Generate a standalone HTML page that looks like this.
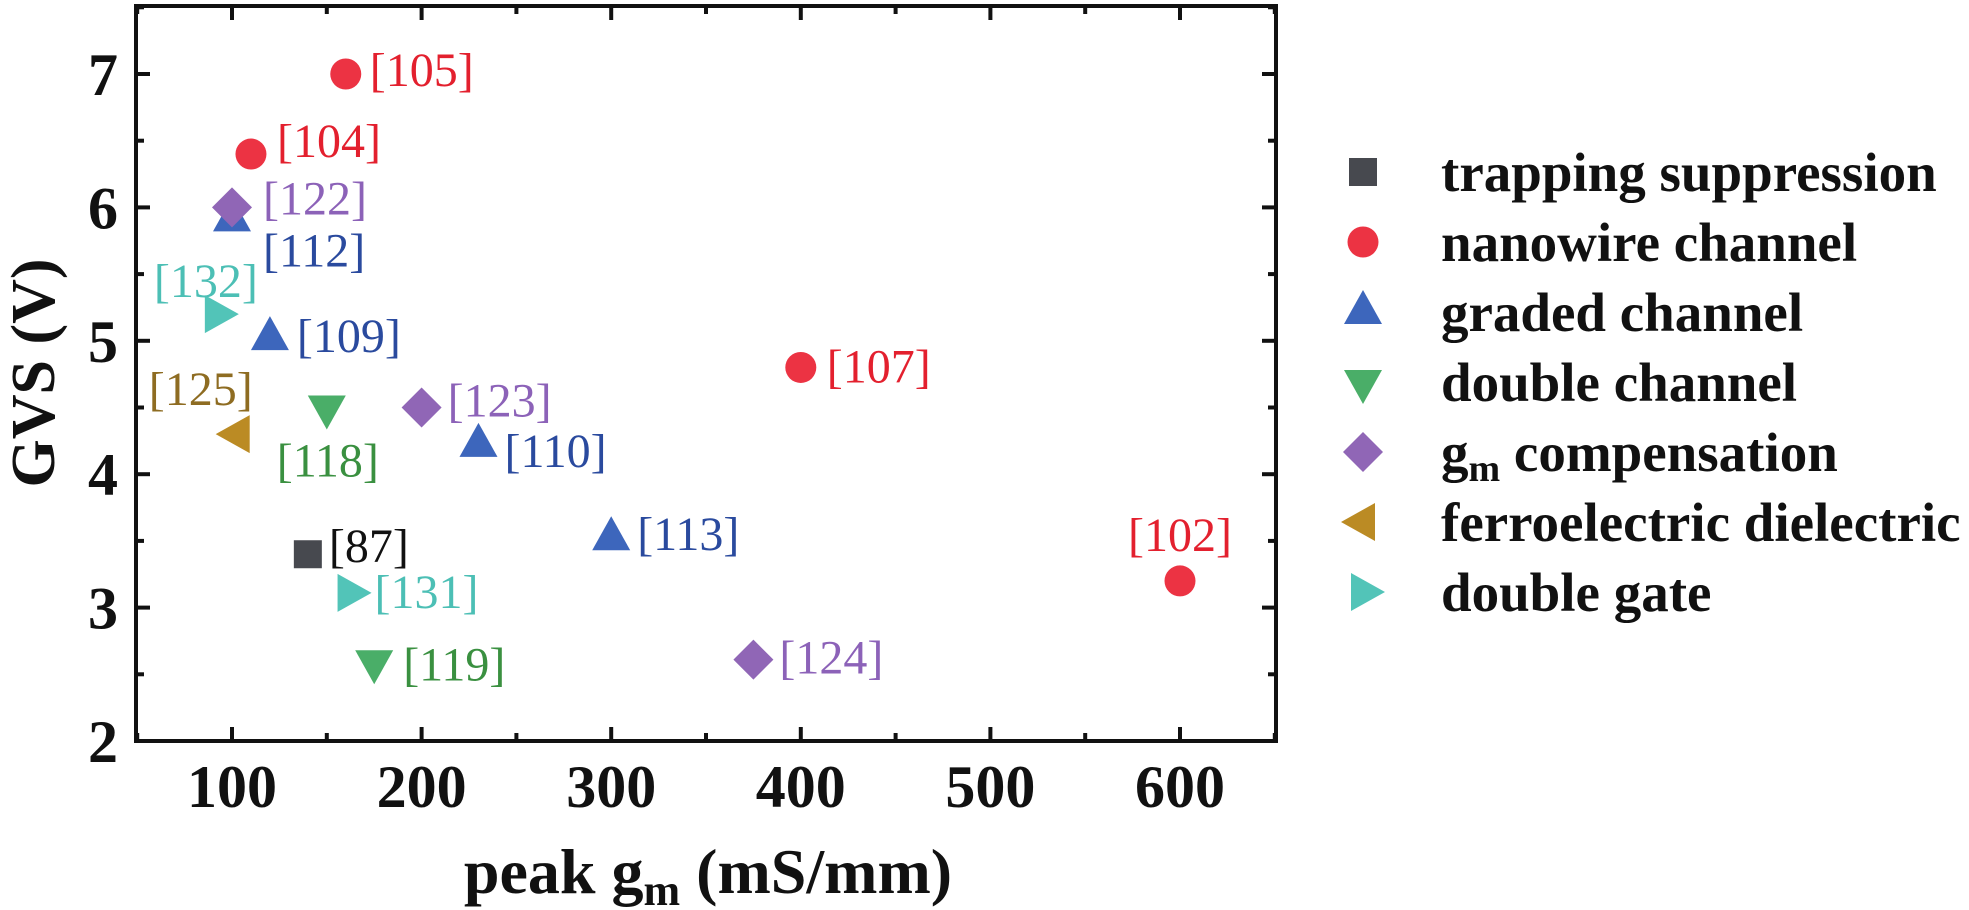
<!DOCTYPE html>
<html><head><meta charset="utf-8"><style>
html,body{margin:0;padding:0;background:#fff;}
svg{display:block;}
svg text{font-family:"Liberation Serif","Times New Roman",Times,serif;}
</style></head><body>
<svg id="chart" width="1969" height="910" viewBox="0 0 1969 910" xmlns="http://www.w3.org/2000/svg" font-family="Liberation Serif, Times New Roman, serif">
<g id="axes"></g>
<g id="marks"></g>
<g id="legend"></g>
<text font-family="Liberation Serif, serif" transform="translate(54,373) rotate(-90)" text-anchor="middle" font-size="62" font-weight="bold" fill="#111">GVS (V)</text>
<text font-family="Liberation Serif, serif" x="708" y="893" text-anchor="middle" font-size="64" font-weight="bold" fill="#111">peak g<tspan font-size="44" dy="12">m</tspan><tspan dy="-12"> (mS/mm)</tspan></text>
</svg>
<script>
const xTicks=[100,200,300,400,500,600];
const yTicks=[2,3,4,5,6,7];
const seriesNames=["trapping suppression","nanowire channel","graded channel","double channel","gm compensation","ferroelectric dielectric","double gate"];
const seriesShapes=["square","circle","up","down","diamond","left","right"];
const seriesColors=["#47494f","#ec3343","#3d66bc","#4aae68","#9066b6","#bb8b24","#52c4b8"];
const labelColors=["#111111","#e3202e","#2a4a9e","#3a9040","#8c62b8","#8e6c22","#4cbfb5"];
const trapGm=[140], trapGvs=[3.4], trapRef=["[87]"];
const wireGm=[160,110,400,600], wireGvs=[7.0,6.4,4.8,3.2], wireRef=["[105]","[104]","[107]","[102]"];
const gradGm=[100,120,230,300], gradGvs=[5.91,5.02,4.22,3.52], gradRef=["[112]","[109]","[110]","[113]"];
const dblGm=[150,175], dblGvs=[4.5,2.59], dblRef=["[118]","[119]"];
const compGm=[100,200,375], compGvs=[6.0,4.5,2.61], compRef=["[122]","[123]","[124]"];
const ferroGm=[103], ferroGvs=[4.3], ferroRef=["[125]"];
const gateGm=[92,162], gateGvs=[5.2,3.11], gateRef=["[132]","[131]"];
// label placement (style): [dx, dy, anchor]
const labelPos={"[87]":[21,8,"start"],"[105]":[24,12,"start"],"[104]":[26,3,"start"],"[107]":[26,15,"start"],"[102]":[0,-30,"middle"],
"[112]":[31,47,"start"],"[109]":[27,14,"start"],"[110]":[26,22,"start"],"[113]":[26,12,"start"],"[118]":[1,69,"middle"],"[119]":[29,18,"start"],
"[122]":[31,7,"start"],"[123]":[26,9,"start"],"[124]":[26,14,"start"],"[125]":[-37,-29,"middle"],"[132]":[-11,-17,"middle"],"[131]":[25,15,"start"]};
const NS="http://www.w3.org/2000/svg";
const FF="Liberation Serif, Times New Roman, serif";
const X0=136,X1=1276,Y0=6,Y1=741;
const xs=v=>232+(v-100)*1.896;
const ys=v=>741-(v-2)*133.4;
function el(t,a,p){const e=document.createElementNS(NS,t);for(const k in a)e.setAttribute(k,a[k]);p.appendChild(e);return e;}
const axes=document.getElementById('axes');
const frame=el('rect',{x:X0,y:Y0,width:X1-X0,height:Y1-Y0,fill:'none',stroke:'#111','stroke-width':4},axes);


function tick(x1,y1,x2,y2,name){const t=el('line',{x1,y1,x2,y2,stroke:'#111','stroke-width':4},axes);

}
for(let i=0;i<xTicks.length;i++){const v=xTicks[i],x=xs(v);
tick(x,Y1,x,Y1-14,'x-tick');tick(x,Y0,x,Y0+14,'x-tick-top');
const mx=xs(v-50);tick(mx,Y1,mx,Y1-8,'x-minor-tick');tick(mx,Y0,mx,Y0+8,'x-minor-tick-top');
const tl=el('text',{x:x,y:807,'text-anchor':'middle','font-size':60,'font-weight':'bold',fill:'#111','font-family':FF},axes);tl.textContent=v;

}
{const mx=xs(650);tick(mx,Y1,mx,Y1-8,'x-minor-tick');tick(mx,Y0,mx,Y0+8,'x-minor-tick-top');}
for(let i=0;i<yTicks.length;i++){const v=yTicks[i],y=ys(v);
tick(X0,y,X0+14,y,'y-tick');tick(X1,y,X1-14,y,'y-tick-right');
const my=ys(v+0.5);tick(X0,my,X0+8,my,'y-minor-tick');tick(X1,my,X1-8,my,'y-minor-tick-right');
const tl=el('text',{x:118,y:y+21,'text-anchor':'end','font-size':60,'font-weight':'bold',fill:'#111','font-family':FF},axes);tl.textContent=v;

}
function marker(shape,cx,cy,color,parent){let e;
if(shape==='square')e=el('rect',{x:cx-14,y:cy-14,width:28,height:28,fill:color},parent);
else if(shape==='circle')e=el('circle',{cx,cy,r:15.5,fill:color},parent);
else if(shape==='up')e=el('polygon',{points:`${cx},${cy-22} ${cx-19},${cy+12} ${cx+19},${cy+12}`,fill:color},parent);
else if(shape==='down')e=el('polygon',{points:`${cx},${cy+22} ${cx-19},${cy-12} ${cx+19},${cy-12}`,fill:color},parent);
else if(shape==='diamond')e=el('polygon',{points:`${cx},${cy-20} ${cx+20},${cy} ${cx},${cy+20} ${cx-20},${cy}`,fill:color},parent);
else if(shape==='left')e=el('polygon',{points:`${cx-22},${cy} ${cx+12},${cy-19} ${cx+12},${cy+19}`,fill:color},parent);
else e=el('polygon',{points:`${cx+22},${cy} ${cx-12},${cy-19} ${cx-12},${cy+19}`,fill:color},parent);
return e;}
const marks=document.getElementById('marks');
const all=[[trapGm,trapGvs,trapRef],[wireGm,wireGvs,wireRef],[gradGm,gradGvs,gradRef],[dblGm,dblGvs,dblRef],[compGm,compGvs,compRef],[ferroGm,ferroGvs,ferroRef],[gateGm,gateGvs,gateRef]];
for(let s=0;s<all.length;s++){const [g,v,r]=all[s];
for(let i=0;i<g.length;i++){const cx=xs(g[i]),cy=ys(v[i]);
const m=marker(seriesShapes[s],cx,cy,seriesColors[s],marks);


const p=labelPos[r[i]]||[24,14,'start'];
const t=el('text',{x:cx+p[0],y:cy+p[1],'text-anchor':p[2],'font-size':48,fill:labelColors[s],'font-family':FF},marks);t.textContent=r[i];

}}
const legend=document.getElementById('legend');
for(let s=0;s<seriesNames.length;s++){const cy=172+s*70;
const m=marker(seriesShapes[s],1363,cy,seriesColors[s],legend);


const t=el('text',{x:1441,y:cy+19,'font-size':55,'font-weight':'bold',fill:'#111','font-family':FF},legend);
if(seriesNames[s].startsWith('gm ')){t.textContent='g';const ts=el('tspan',{'font-size':38,dy:10},t);ts.textContent='m';const ts2=el('tspan',{dy:-10},t);ts2.textContent=' compensation';}
else t.textContent=seriesNames[s];

}
</script>
</body></html>
